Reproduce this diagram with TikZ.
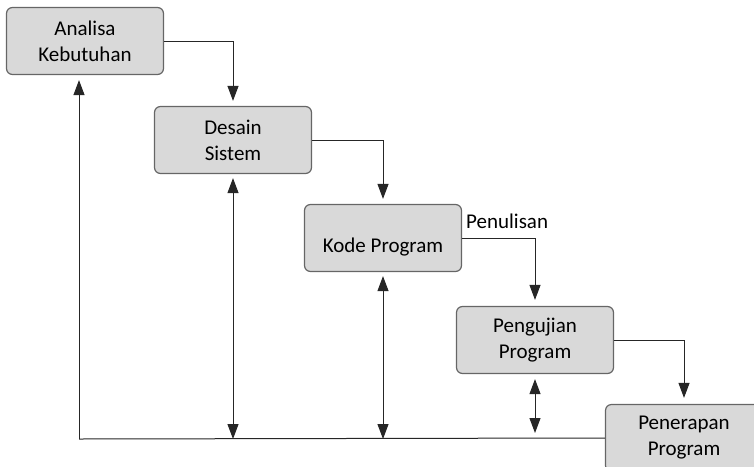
\documentclass[tikz,border=0pt]{standalone}
\usepackage{fontspec}
\setmainfont{Carlito}
\usetikzlibrary{arrows.meta}
\begin{document}
\begin{tikzpicture}[x=1pt,y=-1pt,>={Triangle[length=15pt,width=11pt]}]

\tikzset{tahap/.style={rectangle,rounded corners=6pt,draw=black!60,fill=black!15,line width=1.2pt,minimum width=157pt,minimum height=67pt,inner sep=0pt,align=center,font=\fontsize{21}{26}\selectfont},}
\tikzset{garis/.style={line width=1pt,black!85},}
\tikzset{keterangan/.style={inner sep=0pt,font=\fontsize{21}{26}\selectfont},}

\useasboundingbox (0,0) rectangle (754,466);
\clip (0,0) rectangle (754,466);

%TAHAPAN
\draw (85,41) node [tahap] (analisa) {Analisa\\Kebutuhan};
\draw (233,140) node [tahap] (desain) {Desain\\Sistem};
\draw (383,238) node [tahap] (kode) {\mbox{}\\[6pt]Kode Program};
\draw (535,340) node [tahap] (pengujian) {Pengujian\\Program};
\draw (684,438) node [tahap] (penerapan) {Penerapan\\Program};
\draw (466,228) node [keterangan,anchor=base west] (penulisan) {Penulisan};

%ALUR TURUN
\draw[->,garis,shorten >=5pt] (analisa.east) -| (desain.north);
\draw[->,garis,shorten >=5pt] (desain.east) -| (kode.north);
\draw[->,garis,shorten >=6pt] (kode.east) -| (pengujian.north);
\draw[->,garis,shorten >=6pt] (pengujian.east) -| (penerapan.north);

%UMPAN BALIK
\coordinate (pojok) at (79,439);
\draw[garis] (penerapan.west) -- (pojok);
\draw[->,garis,shorten >=5pt] (pojok) -- (pojok |- analisa.south);
\draw[<->,garis,shorten <=4pt] (desain.south) -- (desain.south |- pojok);
\draw[<->,garis,shorten <=4pt] (kode.south) -- (kode.south |- pojok);
\draw[<->,garis,shorten <=5pt,shorten >=6pt] (pengujian.south) -- (pengujian.south |- pojok);

\end{tikzpicture}
\end{document}
